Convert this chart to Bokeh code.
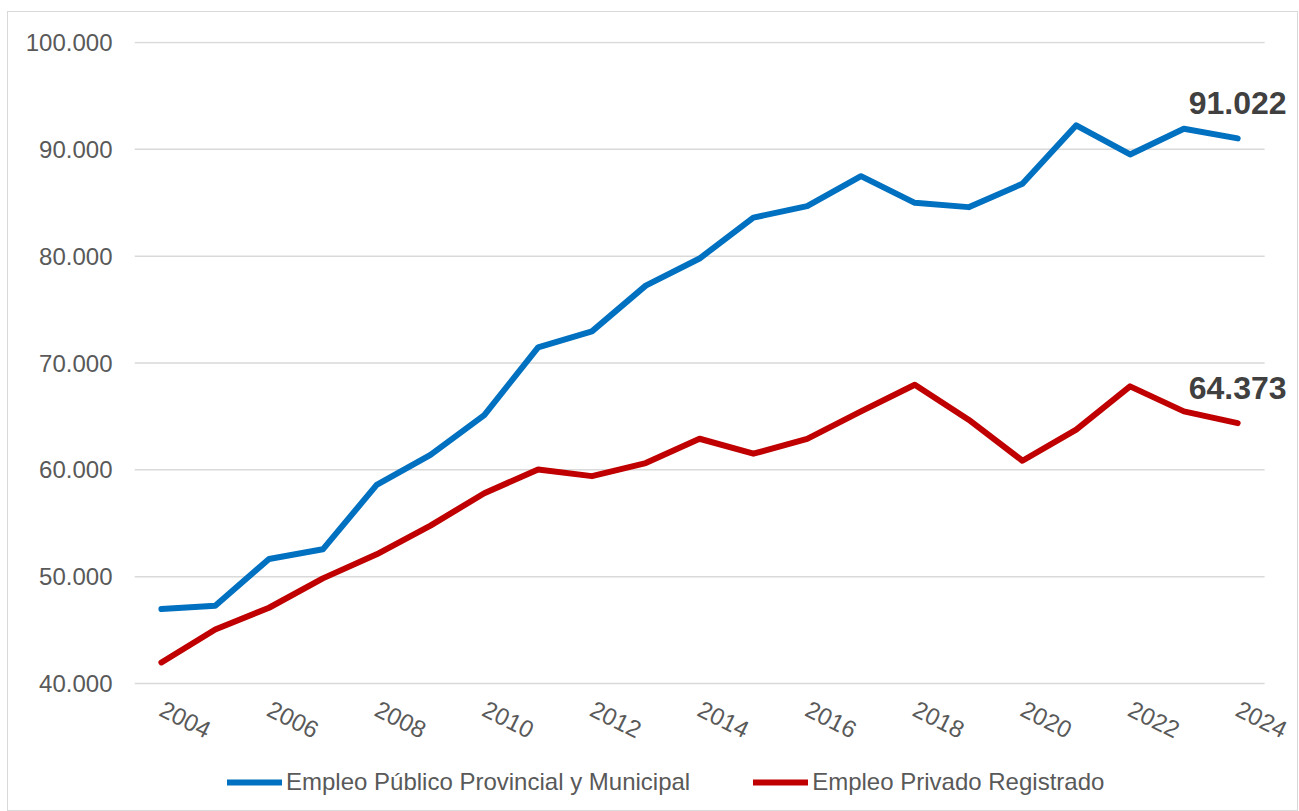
from bokeh.plotting import figure
from bokeh.models import Range1d, FixedTicker, Legend, LegendItem, Label
from bokeh.embed import file_html
from bokeh.resources import INLINE

years = list(range(2004, 2025))
publico = [46970, 47280, 51660, 52560, 58590, 61400, 65120, 71460, 72960, 77240,
           79780, 83610, 84690, 87490, 84990, 84590, 86780, 92250, 89520, 91930, 91022]
privado = [41970, 45060, 47090, 49840, 52090, 54780, 57810, 60040, 59410, 60630,
           62910, 61510, 62900, 65470, 67970, 64690, 60850, 63760, 67810, 65470, 64373]
x_ticks = list(range(2004, 2025, 2))
x_tick_labels = [str(y) for y in x_ticks]
y_ticks = [40000, 50000, 60000, 70000, 80000, 90000, 100000]
y_tick_labels = ["40.000", "50.000", "60.000", "70.000", "80.000", "90.000", "100.000"]
series_names = ["Empleo Público Provincial y Municipal", "Empleo Privado Registrado"]
end_labels = ["91.022", "64.373"]

FONT = "Liberation Sans"
BLUE = "#0070C0"
RED = "#C00000"
GRID = "#d9d9d9"

x_lo, x_hi = years[0] - 0.5, years[-1] + 0.5

p = figure(width=1291, height=800, output_backend="svg", toolbar_location=None,
           x_range=Range1d(x_lo, 2025.0), y_range=Range1d(28112, 100094),
           min_border_left=126, min_border_right=8, min_border_top=29, min_border_bottom=2)
p.margin = (11, 0, 0, 7)
p.styles = {"border": "1px solid #d9d9d9"}
p.outline_line_color = None
p.background_fill_color = "white"
p.border_fill_color = "white"

p.xgrid.grid_line_color = None
p.ygrid.grid_line_color = None
# horizontal gridlines spanning the category band
p.segment(x0=[x_lo] * len(y_ticks), x1=[x_hi] * len(y_ticks), y0=y_ticks, y1=y_ticks,
          line_color=GRID, line_width=1.5)

p.yaxis.ticker = FixedTicker(ticks=y_ticks)
p.yaxis.major_label_overrides = {t: l for t, l in zip(y_ticks, y_tick_labels)}
p.xaxis.ticker = FixedTicker(ticks=x_ticks)
p.xaxis.major_label_overrides = {t: l for t, l in zip(x_ticks, x_tick_labels)}
p.xaxis.fixed_location = y_ticks[0]
for ax in (p.xaxis[0], p.yaxis[0]):
    ax.axis_line_color = None
    ax.major_tick_line_color = None
    ax.minor_tick_line_color = None
    ax.major_label_text_font = FONT
    ax.major_label_text_font_size = "24px"
    ax.major_label_text_color = "#595959"
p.yaxis.major_label_standoff = 16
p.xaxis.major_label_standoff = 18
p.xaxis.major_label_orientation = -0.46

r1 = p.line(years, publico, line_color=BLUE, line_width=6, line_cap="round", line_join="round")
r2 = p.line(years, privado, line_color=RED, line_width=6, line_cap="round", line_join="round")

for series, txt in zip((publico, privado), end_labels):
    p.add_layout(Label(x=years[-1], y=series[-1], text=txt, text_align="center",
                       text_baseline="bottom", y_offset=24, text_font=FONT,
                       text_font_size="32px", text_font_style="bold", text_color="#404040"))

legend = Legend(items=[LegendItem(label=series_names[0], renderers=[r1]),
                       LegendItem(label=series_names[1], renderers=[r2])],
                orientation="horizontal", location=(93, 14),
                glyph_width=55, glyph_height=24, label_standoff=4, spacing=63,
                label_text_font=FONT, label_text_font_size="24px", label_text_color="#595959",
                padding=0, margin=0, border_line_color=None, background_fill_alpha=0)
p.add_layout(legend, "center")

open("out.html", "w").write(file_html(p, INLINE))
